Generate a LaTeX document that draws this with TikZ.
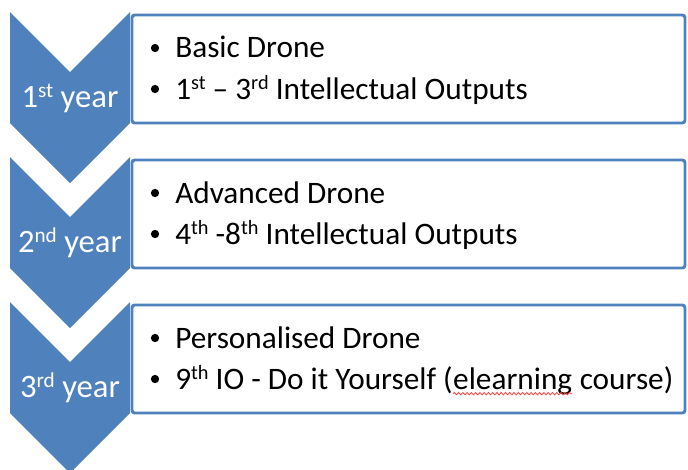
\documentclass[tikz,border=0pt]{standalone}
\usepackage{fontspec}
\setmainfont{Carlito}
\usetikzlibrary{decorations.pathmorphing}
\definecolor{chevblue}{HTML}{4F81BD}
\newcommand{\supr}[1]{\raisebox{0.3em}{\scalebox{0.65}{#1}}}
\tikzset{
  chevron/.style={fill=chevblue},
  yearbox/.style={draw=chevblue, line width=2.2pt, rounded corners=2pt},
  yearlabel/.style={anchor=base, inner sep=0, text=white, font=\fontsize{24.5}{29}\selectfont},
  item/.style={anchor=base west, inner sep=0, font=\fontsize{23.45}{28}\selectfont},
  dot/.style={circle, fill=black, inner sep=0, minimum size=6.2pt}
}
\begin{document}
\begin{tikzpicture}[x=0.75pt,y=-0.75pt]
\useasboundingbox (0,0) rectangle (688,469);
% chevrons
\foreach \t in {12,157,302}
  \fill[chevron] (10,\t) -- (70,\t+60) -- (130,\t) -- (130,\t+111)
    -- (70,\t+171) -- (10,\t+111) -- cycle;
% boxes
\draw[yearbox] (132,15) rectangle (685,123);
\draw[yearbox] (132,160) rectangle (685,268);
\draw[yearbox] (132,305) rectangle (685,413);
% year labels
\node[yearlabel] (y1) at (70,107) {1\supr{st} year};
\node[yearlabel] (y2) at (70,252) {2\supr{nd} year};
\node[yearlabel] (y3) at (70,397) {3\supr{rd} year};
% first year
\node[dot] (d1a) at (155,48) {};
\node[item] (t1a) at (175,57) {Basic Drone};
\node[dot] (d1b) at (155,89) {};
\node[item] (t1b) at (175,99) {1\supr{st} -- 3\supr{rd} Intellectual Outputs};
% second year
\node[dot] (d2a) at (155,193) {};
\node[item] (t2a) at (175,203) {Advanced Drone};
\node[dot] (d2b) at (155,234) {};
\node[item] (t2b) at (175,244) {4\supr{th} -8\supr{th} Intellectual Outputs};
% third year
\node[dot] (d3a) at (155,338) {};
\node[item] (t3a) at (175,348) {Personalised Drone};
\node[dot] (d3b) at (155,379) {};
\node[item] (t3b) at (175,389) {9\supr{th} IO - Do it Yourself (};
\node[item] (el) at (t3b.base east) {elearning};
\node[item] (t3c) at (el.base east) {\ course)};
\draw[red!75, line width=0.6pt, decorate,
  decoration={snake, amplitude=0.9pt, segment length=3.2pt}]
  ([yshift=-3.5pt]el.base west) -- ([yshift=-3.5pt]el.base east);
\end{tikzpicture}
\end{document}
